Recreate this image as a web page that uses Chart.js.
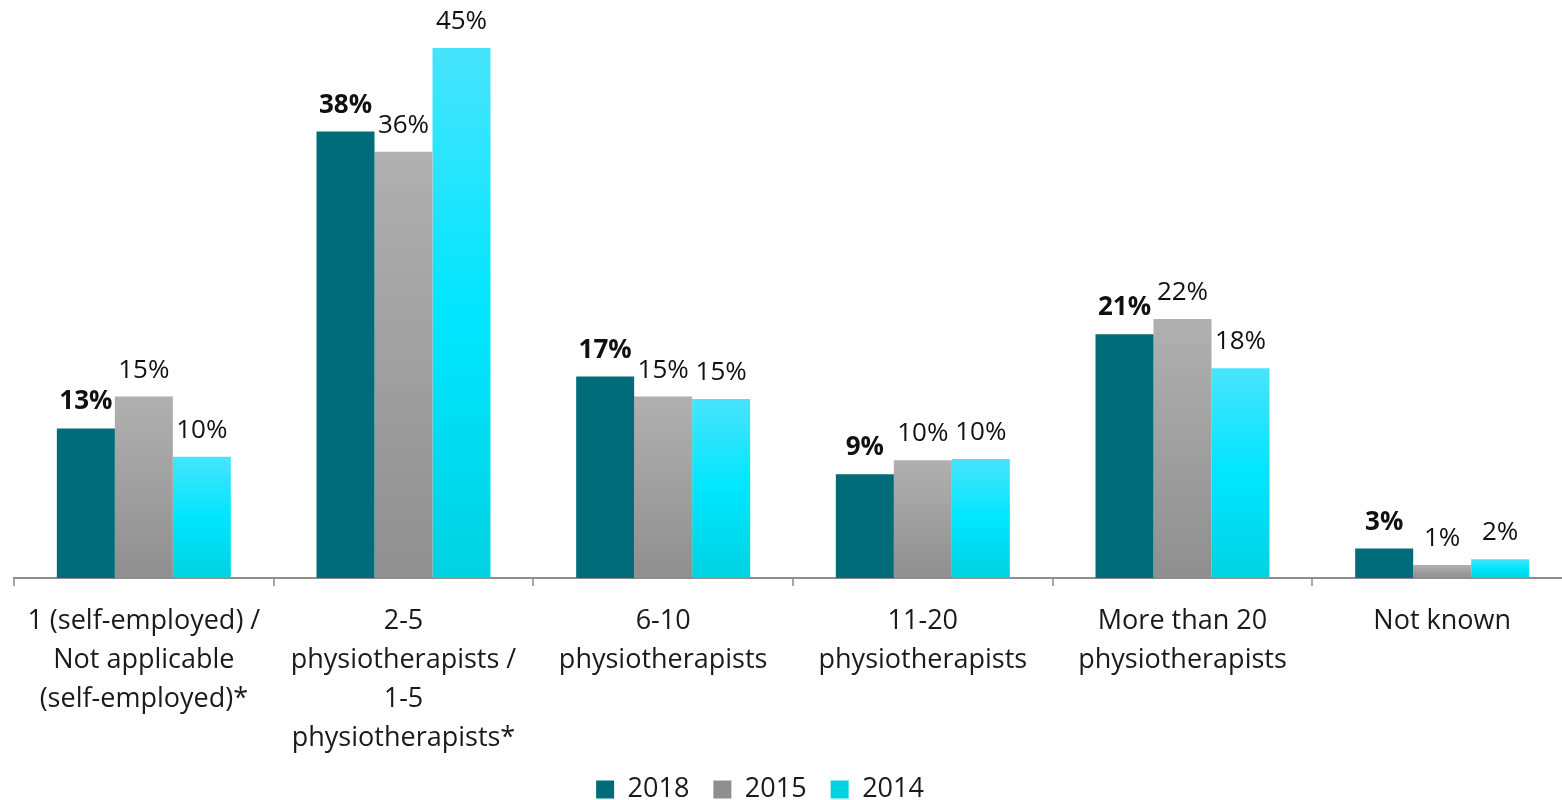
<!DOCTYPE html>
<html>
<head>
<meta charset="utf-8">
<script src="https://cdn.jsdelivr.net/npm/chart.js@4/dist/chart.umd.min.js"></script>
<style>
  html, body { margin: 0; padding: 0; background: #fff; overflow: hidden; }
  #wrap { position: relative; width: 1580px; height: 800px; }
</style>
</head>
<body>
<div id="wrap"><canvas id="c" width="1580" height="800"></canvas></div>
<script>
const categories = [
  ["1 (self-employed) /", "Not applicable", "(self-employed)*"],
  ["2-5", "physiotherapists /", "1-5", "physiotherapists*"],
  ["6-10", "physiotherapists"],
  ["11-20", "physiotherapists"],
  ["More than 20", "physiotherapists"],
  ["Not known"]
];
const seriesNames = ["2018", "2015", "2014"];
const values2018 = [12.7, 37.9, 17.1, 8.8, 20.7, 2.5];
const values2015 = [15.4, 36.2, 15.4, 10.0, 22.0, 1.1];
const values2014 = [10.3, 45.0, 15.2, 10.1, 17.8, 1.6];

const FONT = "'Open Sans', Lato, sans-serif";

function gradientFill(stops, solid) {
  return (ctx) => {
    const chart = ctx.chart;
    if (!chart.chartArea || ctx.raw === undefined || ctx.type !== 'data') return solid;
    const y = chart.scales.y;
    const top = y.getPixelForValue(ctx.raw);
    const bot = y.getPixelForValue(0);
    if (!isFinite(top) || !isFinite(bot) || bot - top < 0.5) return solid;
    const g = chart.ctx.createLinearGradient(0, top, 0, bot);
    stops.forEach(s => g.addColorStop(s[0], s[1]));
    return g;
  };
}

const labelPlugin = {
  id: 'valueLabels',
  afterDatasetsDraw(chart) {
    const ctx = chart.ctx;
    ctx.save();
    ctx.textAlign = 'center';
    ctx.textBaseline = 'alphabetic';
    ctx.fillStyle = '#111';
    chart.data.datasets.forEach((ds, di) => {
      const meta = chart.getDatasetMeta(di);
      ctx.font = (di === 0 ? 'bold ' : '') + '26px ' + FONT;
      meta.data.forEach((bar, i) => {
        const v = ds.data[i];
        ctx.fillText(Math.round(v) + '%', bar.x, bar.y - 19);
      });
    });
    ctx.restore();
  }
};

const layoutTweak = {
  id: 'layoutTweak',
  afterLayout(chart) {
    const lg = chart.legend;
    if (lg) { lg.left -= 33; lg.right -= 33; lg.top += 13; lg.bottom += 13; }
    const xs = chart.scales.x;
    if (xs) { xs.bottom += 40; }
  }
};

new Chart(document.getElementById('c'), {
  type: 'bar',
  data: {
    labels: categories,
    datasets: [
      { label: seriesNames[0], data: values2018, backgroundColor: '#006b79' },
      { label: seriesNames[1], data: values2015,
        backgroundColor: gradientFill([[0, '#b0b0b0'], [1, '#8f8f8f']], '#a3a3a3') },
      { label: seriesNames[2], data: values2014,
        backgroundColor: gradientFill([[0, '#47e4fc'], [0.5, '#00e6ff'], [1, '#00d2e2']], '#1ee6ff') }
    ]
  },
  options: {
    responsive: false,
    animation: false,
    devicePixelRatio: 1,
    layout: { padding: { left: 14, right: 8, top: 48, bottom: 0 } },
    datasets: { bar: { categoryPercentage: 0.67, barPercentage: 1.0 } },
    scales: {
      x: {
        offset: true,
        grid: { display: true, drawOnChartArea: false, drawTicks: true, tickLength: 8, color: '#a6a6a6', lineWidth: 2, offset: true },
        border: { display: true, color: '#8e8e8e', width: 2 },
        ticks: { color: '#1a1a1a', font: { family: FONT, size: 27, lineHeight: 1.444 }, padding: 16, maxRotation: 0, autoSkip: false },
        afterFit(scale) { scale.height = 161; }
      },
      y: {
        display: false,
        min: 0, max: 45
      }
    },
    plugins: {
      legend: {
        position: 'bottom',
        labels: {
          color: '#1a1a1a',
          font: { family: FONT, size: 27 },
          boxWidth: 18, boxHeight: 18,
          padding: 24
        }
      },
      tooltip: { enabled: false }
    }
  },
  plugins: [labelPlugin, layoutTweak]
});
</script>
</body>
</html>
